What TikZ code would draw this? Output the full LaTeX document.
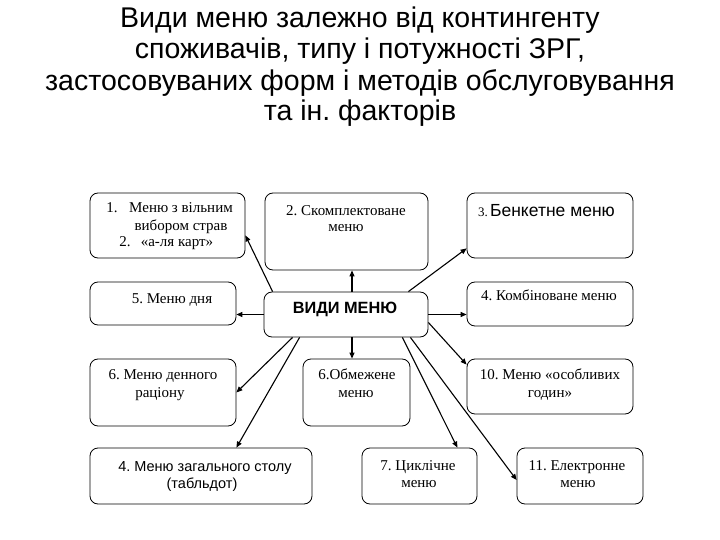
\documentclass[tikz,border=0pt]{standalone}
\usepackage{fontspec}
\setmainfont{Liberation Serif}
\newfontfamily\sansf{Liberation Sans}
\usetikzlibrary{arrows.meta}
\frenchspacing
\begin{document}
\begin{tikzpicture}[x=1pt,y=-1pt,
  box/.style={draw, rounded corners=8pt, line width=0.8pt, inner sep=0pt},
  txt/.style={anchor=base, inner sep=0pt, font=\frenchspacing\fontsize{15}{17}\selectfont},
  stxt/.style={anchor=base, inner sep=0pt, font=\frenchspacing\sansf\fontsize{14.5}{17}\selectfont},
  ttl/.style={anchor=base, inner sep=0pt, font=\frenchspacing\sansf\fontsize{28.5}{31}\selectfont},
  arr/.style={line width=1.1pt, -{Triangle[length=6pt,width=5pt]}}]
\useasboundingbox (0,0) rectangle (720,540);
% title
\node[ttl] (t1) at (360,28) {Види меню залежно від контингенту};
\node[ttl] (t2) at (360,59) {споживачів, типу і потужності ЗРГ,};
\node[ttl] (t3) at (360,91) {застосовуваних форм і методів обслуговування};
\node[ttl] (t4) at (360,121) {та ін. факторів};
% boxes
\node[box, minimum width=155, minimum height=65] (A) at (167.5,225.5) {};
\node[box, minimum width=163, minimum height=77] (B) at (346.5,231.5) {};
\node[box, minimum width=166, minimum height=65] (b3) at (550,225.5) {};
\node[box, minimum width=146, minimum height=43] (b5) at (163,303.5) {};
\node[box, minimum width=164, minimum height=45] (c) at (346,314.5) {};
\node[box, minimum width=166, minimum height=44] (b4) at (550,304) {};
\node[box, minimum width=146, minimum height=67] (b6d) at (163,392.5) {};
\node[box, minimum width=107, minimum height=67] (b6o) at (356.5,392.5) {};
\node[box, minimum width=166, minimum height=55] (b10) at (550,386.5) {};
\node[box, minimum width=222, minimum height=56] (b4z) at (201,476) {};
\node[box, minimum width=115, minimum height=56] (b7) at (419.5,476) {};
\node[box, minimum width=126, minimum height=56] (b11) at (580,476) {};
% texts
\node[txt] (a1) at (112,213) {1.};
\node[txt] (a2) at (181,213) {Меню з вільним};
\node[txt] (a3) at (181,230) {вибором страв};
\node[txt] (a4) at (125,246) {2.};
\node[txt] (a5) at (177,246) {«а-ля карт»};
\node[txt] (bt1) at (346,215) {2. Скомплектоване};
\node[txt] (bt2) at (346,231) {меню};
\node[txt] (t5) at (172,303) {5. Меню дня};
\node[anchor=base, inner sep=0pt, font=\sansf\bfseries\fontsize{16.3}{18}\selectfont] (ct) at (345,313) {ВИДИ МЕНЮ};
\node[anchor=base west, inner sep=0pt] (t3a) at (478,216) {\fontsize{13}{15}\selectfont 3.\,\sansf\fontsize{17.5}{19}\selectfont Бенкетне меню};
\node[txt] (t4k) at (549,300) {4. Комбіноване меню};
\node[txt] (t6a) at (163,379) {6. Меню денного};
\node[txt] (t6b) at (160,397) {раціону};
\node[txt] (t6c) at (357,379) {6.Обмежене};
\node[txt] (t6d) at (356,397) {меню};
\node[txt] (t10a) at (550,379) {10. Меню «особливих};
\node[txt] (t10b) at (550,397) {годин»};
\node[stxt] (t4za) at (205,471) {4. Меню загального столу};
\node[stxt] (t4zb) at (202,488) {(табльдот)};
\node[txt] (t7a) at (418,470) {7. Циклічне};
\node[txt] (t7b) at (419,487) {меню};
\node[txt] (t11a) at (577,470) {11. Електронне};
\node[txt] (t11b) at (578,487) {меню};
% arrows
\draw[arr] ([xshift=9pt]c.north west) -- ([yshift=23pt]A.south east);
\draw[arr] ([xshift=6pt]c.north) -- ([xshift=6pt]c.north |- B.south);
\draw[arr] (c.west) -- (c.west -| b5.east);
\draw[arr] ([xshift=-20pt]c.north east) -- ([yshift=10pt]b3.south west);
\draw[arr] (c.east) -- (c.east -| b4.west);
\draw[arr] ([yshift=-8pt]c.east) -- ([yshift=-6pt]b10.north west);
\draw[arr] ([xshift=-26pt]c.south east) -- ([xshift=-20pt]b7.north east);
\draw[arr] ([xshift=-18pt]c.south east) -- ([yshift=-4pt]b11.west);
\draw[arr] ([xshift=6pt]c.south) -- ([xshift=6pt]c.south |- b6o.north);
\draw[arr] ([xshift=29pt]c.south west) -- (b6d.east);
\draw[arr] ([xshift=36pt]c.south west) -- ([xshift=-76pt]b4z.north east);
\end{tikzpicture}
\end{document}
